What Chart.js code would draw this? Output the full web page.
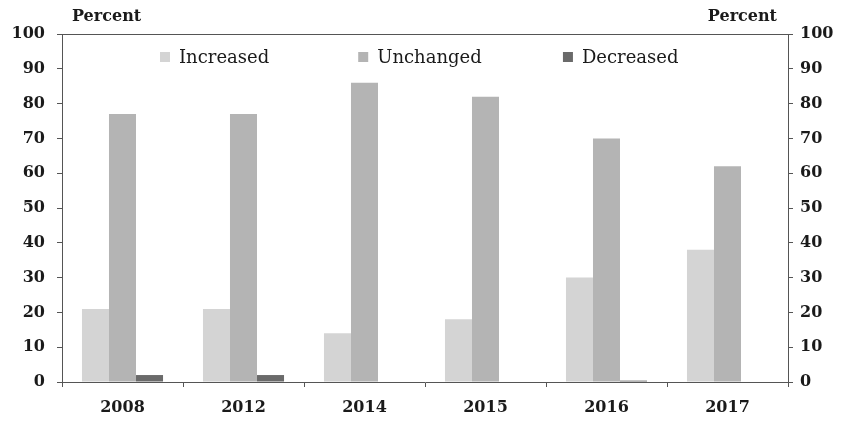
<!DOCTYPE html>
<html>
<head>
<meta charset="utf-8">
<script src="https://cdn.jsdelivr.net/npm/chart.js@4/dist/chart.umd.min.js"></script>
<style>
  body { margin: 0; background: #fff; }
  #wrap { width: 841px; height: 421px; position: relative; }
</style>
</head>
<body>
<div id="wrap"><canvas id="chart"></canvas></div>
<script>
const years = ["2008", "2012", "2014", "2015", "2016", "2017"];
const increased = [21, 21, 14, 18, 30, 38];
const unchanged = [77, 77, 86, 82, 70, 62];
const decreased = [2, 2, 0, 0, 0.4, 0];
const yTicks = [0, 10, 20, 30, 40, 50, 60, 70, 80, 90, 100];

const serif = "'DejaVu Serif', serif";
const ink = "#1a1a1a";

// legend drawn inside the plot area, like the original
const innerLegend = {
  id: "innerLegend",
  afterDraw(chart) {
    const { ctx, chartArea } = chart;
    const spots = [0.135, 0.408, 0.69];
    ctx.save();
    ctx.font = "18px " + serif;
    ctx.textBaseline = "middle";
    chart.data.datasets.forEach((ds, i) => {
      const x = chartArea.left + chartArea.width * spots[i];
      const y = chartArea.top + 23;
      ctx.fillStyle = ds.backgroundColor;
      ctx.fillRect(x, y - 5, 10, 10);
      ctx.fillStyle = ink;
      ctx.fillText(ds.label, x + 19, y + 1);
    });
    ctx.restore();
  }
};

// "Percent" labels over both axes and the top frame line
const frame = {
  id: "frame",
  afterDraw(chart) {
    const { ctx, chartArea } = chart;
    ctx.save();
    ctx.strokeStyle = "#555";
    ctx.lineWidth = 1;
    ctx.beginPath();
    ctx.moveTo(chartArea.left, chartArea.top + 0.5);
    ctx.lineTo(chartArea.right, chartArea.top + 0.5);
    ctx.stroke();
    ctx.font = "bold 16px " + serif;
    ctx.fillStyle = ink;
    ctx.textBaseline = "alphabetic";
    ctx.textAlign = "left";
    ctx.fillText("Percent", 72, 21);
    ctx.textAlign = "right";
    ctx.fillText("Percent", 777, 21);
    ctx.restore();
  }
};

const axisGrid = {
  drawOnChartArea: false,
  drawTicks: true,
  tickLength: 5,
  color: "#555"
};
const tickFont = { family: serif, size: 16, weight: "bold" };

new Chart(document.getElementById("chart"), {
  type: "bar",
  data: {
    labels: years,
    datasets: [
      { label: "Increased", data: increased, backgroundColor: "#d4d4d4" },
      { label: "Unchanged", data: unchanged, backgroundColor: "#b4b4b4" },
      { label: "Decreased", data: decreased, backgroundColor: "#6a6a6a" }
    ]
  },
  options: {
    responsive: true,
    maintainAspectRatio: false,
    animation: false,
    layout: { padding: { left: 0, right: 0, top: 34, bottom: 0 } },
    datasets: { bar: { categoryPercentage: 0.67, barPercentage: 1.0 } },
    plugins: {
      legend: { display: false },
      tooltip: { enabled: false }
    },
    scales: {
      x: {
        afterFit: (s) => { s.height = 39; },
        grid: axisGrid,
        border: { display: true, color: "#555" },
        ticks: { color: ink, font: tickFont, padding: 11 }
      },
      y: {
        position: "left",
        min: 0, max: 100,
        afterFit: (s) => { s.width = 62; },
        afterBuildTicks: (s) => { s.ticks = yTicks.map(v => ({ value: v })); },
        grid: axisGrid,
        border: { display: true, color: "#555" },
        ticks: { color: ink, font: tickFont, padding: 12 }
      },
      y2: {
        position: "right",
        min: 0, max: 100,
        afterFit: (s) => { s.width = 53; },
        afterBuildTicks: (s) => { s.ticks = yTicks.map(v => ({ value: v })); },
        grid: axisGrid,
        border: { display: true, color: "#555" },
        ticks: { color: ink, font: tickFont, padding: 7 }
      }
    }
  },
  plugins: [innerLegend, frame]
});
</script>
</body>
</html>
